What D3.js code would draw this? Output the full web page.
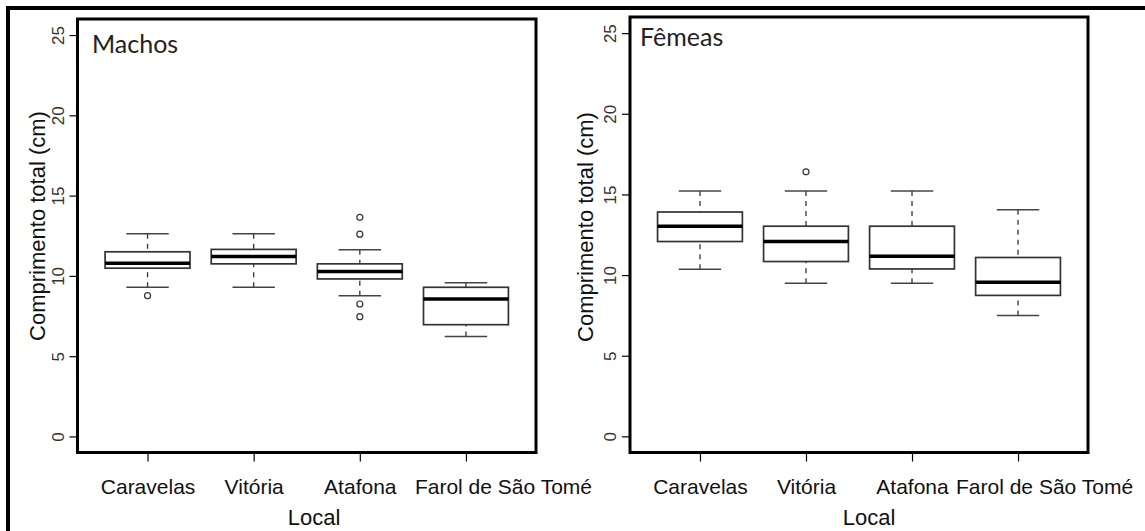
<!DOCTYPE html>
<html>
<head>
<meta charset="utf-8">
<script src="https://cdn.jsdelivr.net/npm/d3@7"></script>
<style>
  html, body { margin: 0; padding: 0; background: #fff; }
  svg { display: block; }
</style>
</head>
<body>
<svg id="chart" width="1145" height="531"></svg>
<script>
// ---------------- data ----------------
const categories = ["Caravelas", "Vitória", "Atafona", "Farol de São Tomé"];
const yTicks = [0, 5, 10, 15, 20, 25];

const machosLow     = [9.29, 9.29, 8.77, 6.23];
const machosQ1      = [10.48, 10.75, 9.81, 6.96];
const machosMedian  = [10.79, 11.21, 10.27, 8.56];
const machosQ3      = [11.50, 11.65, 10.75, 9.29];
const machosHigh    = [12.63, 12.63, 11.63, 9.58];
const machosOutliers = [[8.77], [], [13.65, 12.60, 8.25, 7.46], []];

const femeasLow     = [10.36, 9.49, 9.49, 7.50];
const femeasQ1      = [12.08, 10.84, 10.38, 8.74];
const femeasMedian  = [13.03, 12.08, 11.16, 9.56];
const femeasQ3      = [13.91, 13.03, 13.03, 11.09];
const femeasHigh    = [15.21, 15.21, 15.21, 14.05];
const femeasOutliers = [[], [16.40], [], []];

const panelTitles = ["Machos", "Fêmeas"];
const yTitle = "Comprimento total (cm)";
const xTitle = "Local";

// ---------------- layout ----------------
const svg = d3.select("#chart");

// outer frame (top and left edges visible)
svg.append("line").attr("x1", 6).attr("x2", 1145).attr("y1", 8).attr("y2", 8)
  .attr("stroke", "#000").attr("stroke-width", 4);
svg.append("line").attr("x1", 8).attr("x2", 8).attr("y1", 6).attr("y2", 531)
  .attr("stroke", "#000").attr("stroke-width", 4);

const panels = [
  { left: 77.5, right: 536, top: 19, bottom: 452.5,
    low: machosLow, q1: machosQ1, med: machosMedian, q3: machosQ3, high: machosHigh, out: machosOutliers,
    title: panelTitles[0], titleX: 92, titleY: 53, yTitleX: 45, yTitleY: 226,
    lastShift: 37, xTitleX: 314 },
  { left: 630, right: 1088, top: 17, bottom: 452.5,
    low: femeasLow, q1: femeasQ1, med: femeasMedian, q3: femeasQ3, high: femeasHigh, out: femeasOutliers,
    title: panelTitles[1], titleX: 640, titleY: 46, yTitleX: 593, yTitleY: 227,
    lastShift: 26, xTitleX: 869 }
];

panels.forEach(p => {
  const g = svg.append("g");
  const x = d3.scaleLinear().domain([0.34, 4.66]).range([p.left, p.right]);
  const y = d3.scaleLinear().domain([-1, 26]).range([p.bottom, p.top]);
  const unit = x(2) - x(1);
  const boxW = 0.8 * unit;
  const capW = 0.4 * unit;

  // y axis
  const ya = g.append("g").attr("transform", `translate(${p.left},0)`)
    .call(d3.axisLeft(y).tickValues(yTicks).tickSize(8).tickFormat(d3.format("d")));
  ya.select(".domain").remove();
  ya.selectAll(".tick line").attr("stroke", "#000").attr("stroke-width", 1.2);
  ya.selectAll(".tick text")
    .attr("transform", "rotate(-90)")
    .attr("x", 0).attr("y", -14).attr("dy", 0)
    .attr("text-anchor", "middle")
    .attr("font-family", "'Liberation Sans', Arial, sans-serif")
    .attr("font-size", 17).attr("fill", "#333");

  // x axis
  const xa = g.append("g").attr("transform", `translate(0,${p.bottom})`)
    .call(d3.axisBottom(x).tickValues([1, 2, 3, 4]).tickSize(9).tickFormat(d => categories[d - 1]));
  xa.select(".domain").remove();
  xa.selectAll(".tick line").attr("stroke", "#000").attr("stroke-width", 1.2);
  xa.selectAll(".tick text")
    .attr("y", 41.5).attr("dy", 0)
    .attr("x", (d, i) => i === categories.length - 1 ? p.lastShift : 0)
    .attr("font-family", "'Liberation Sans', Arial, sans-serif")
    .attr("font-size", 21).attr("fill", "#111");

  // boxes
  categories.forEach((c, i) => {
    const cx = x(i + 1);
    // whiskers (dashed, from cap to box)
    g.append("line").attr("x1", cx).attr("x2", cx).attr("y1", y(p.high[i])).attr("y2", y(p.q3[i]))
      .attr("stroke", "#333").attr("stroke-width", 1.3).attr("stroke-dasharray", "5,5");
    g.append("line").attr("x1", cx).attr("x2", cx).attr("y1", y(p.low[i])).attr("y2", y(p.q1[i]))
      .attr("stroke", "#333").attr("stroke-width", 1.3).attr("stroke-dasharray", "5,5");
    // caps
    [p.high[i], p.low[i]].forEach(v => {
      g.append("line").attr("x1", cx - capW / 2).attr("x2", cx + capW / 2)
        .attr("y1", y(v)).attr("y2", y(v))
        .attr("stroke", "#444").attr("stroke-width", 1.5);
    });
    // box
    g.append("rect").attr("x", cx - boxW / 2).attr("width", boxW)
      .attr("y", y(p.q3[i])).attr("height", y(p.q1[i]) - y(p.q3[i]))
      .attr("fill", "#fff").attr("stroke", "#333").attr("stroke-width", 1.7);
    // median
    g.append("line").attr("x1", cx - boxW / 2).attr("x2", cx + boxW / 2)
      .attr("y1", y(p.med[i])).attr("y2", y(p.med[i]))
      .attr("stroke", "#000").attr("stroke-width", 3.5);
    // outliers
    p.out[i].forEach(v => {
      g.append("circle").attr("cx", cx).attr("cy", y(v)).attr("r", 3)
        .attr("fill", "none").attr("stroke", "#333").attr("stroke-width", 1.2);
    });
  });

  // plot frame
  g.append("rect").attr("x", p.left).attr("y", p.top)
    .attr("width", p.right - p.left).attr("height", p.bottom - p.top)
    .attr("fill", "none").attr("stroke", "#000").attr("stroke-width", 3);

  // panel title
  g.append("text").attr("x", p.titleX).attr("y", p.titleY)
    .attr("font-family", "Lato, 'Open Sans', sans-serif").attr("font-size", 25)
    .attr("fill", "#222").text(p.title);

  // y title
  g.append("text")
    .attr("transform", `translate(${p.yTitleX},${p.yTitleY}) rotate(-90)`)
    .attr("text-anchor", "middle")
    .attr("font-family", "'Liberation Sans', Arial, sans-serif").attr("font-size", 22)
    .attr("fill", "#111").text(yTitle);

  // x title
  g.append("text").attr("x", p.xTitleX).attr("y", 525)
    .attr("text-anchor", "middle")
    .attr("font-family", "'Liberation Sans', Arial, sans-serif").attr("font-size", 22)
    .attr("fill", "#111").text(xTitle);
});
</script>
</body>
</html>
